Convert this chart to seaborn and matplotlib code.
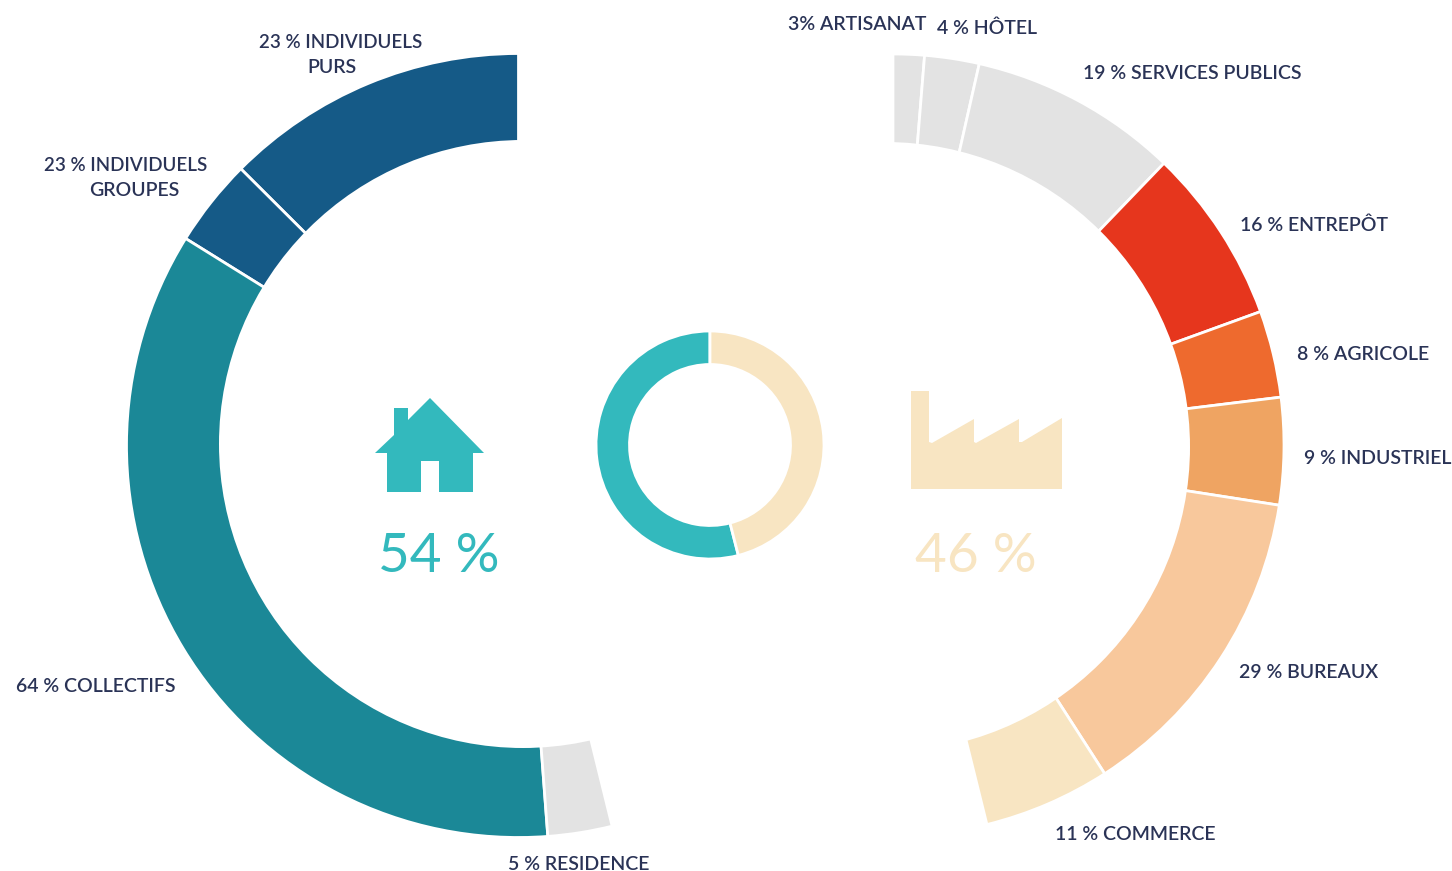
import matplotlib
matplotlib.use("Agg")
import matplotlib.pyplot as plt
from matplotlib.patches import Polygon, Circle
import seaborn as sns

sns.set_theme(style="white")
plt.rcParams['font.family'] = ['Lato', 'DejaVu Sans']

# Data
total_cats = ["Résidentiel", "Tertiaire"]
total_vals = [54, 46]
left_labels = ["23 % INDIVIDUELS\nPURS", "23 % INDIVIDUELS\nGROUPES", "64 % COLLECTIFS", "5 % RESIDENCE"]
left_shares = [23.2, 6.7, 64.9, 4.9]
right_labels = ["3% ARTISANAT", "4 % HÔTEL", "19 % SERVICES PUBLICS", "16 % ENTREPÔT",
                "8 % AGRICOLE", "9 % INDUSTRIEL", "29 % BUREAUX", "11 % COMMERCE"]
right_shares = [2.8, 4.9, 18.8, 15.8, 7.8, 9.6, 29.2, 11.4]

TEAL = "#33b9bd"
CREAM = "#f8e5c2"
INK = "#2a3356"
left_colors = ["#155a87", "#155a87", "#1b8897", "#e3e3e3"]
right_colors = ["#e3e3e3", "#e3e3e3", "#e3e3e3", "#e6361d", "#ee6a2e", "#efa462", "#f8c89c", CREAM]

W, H = 1452, 871
fig = plt.figure(figsize=(W / 100, H / 100), dpi=100, facecolor="white")
ax = fig.add_axes([0, 0, 1, 1])

def Y(py):
    return H - py

edge = dict(edgecolor="white", linewidth=2)

ax.pie([v / 100 * total_vals[0] / 100 for v in left_shares], colors=left_colors,
       center=(518.5, Y(445.5)), radius=392, startangle=90, counterclock=True, normalize=False,
       frame=True, wedgeprops=edge)
ax.pie([v / 100 * total_vals[1] / 100 for v in right_shares], colors=right_colors,
       center=(893, Y(445)), radius=391, startangle=90, counterclock=False, normalize=False,
       frame=True, wedgeprops=edge)
# the inner hole of each ring sits slightly off-centre in the reference
ax.add_patch(Circle((523, Y(444)), 304, fc="white", ec="none", zorder=3))
ax.add_patch(Circle((885, Y(447)), 305, fc="white", ec="none", zorder=3))
for w in ax.pie(total_vals, colors=[TEAL, CREAM], center=(710, Y(445)), radius=114, startangle=90,
                counterclock=True, frame=True, wedgeprops=dict(width=33.5, **edge))[0]:
    w.set_zorder(4)

ax.set_xlim(0, W)
ax.set_ylim(0, H)
ax.set_aspect("equal")
ax.axis("off")

house = [(430, 398), (484, 453), (473, 453), (473, 492), (439, 492), (439, 461), (421, 461), (421, 492),
         (387, 492), (387, 453), (375, 453), (394, 435), (394, 408), (408, 408), (408, 420)]
factory = [(911, 391), (929, 391), (929, 442), (932, 443), (974, 419), (974, 442), (976, 443), (1019, 419),
           (1019, 442), (1022, 442), (1062, 418), (1062, 489), (911, 489)]
ax.add_patch(Polygon([(x, Y(y)) for x, y in house], closed=True, fc=TEAL, ec="none", zorder=5))
ax.add_patch(Polygon([(x, Y(y)) for x, y in factory], closed=True, fc=CREAM, ec="none", zorder=5))

# one anchor per text line
lines = [l for t in left_labels + right_labels for l in t.split("\n")]
pos = [(341, 42), (332, 67), (126, 165), (134, 190), (96, 687), (579, 865),
       (857, 24), (987, 28), (1192, 73), (1314, 225), (1363, 354), (1378, 458), (1309, 672), (1135, 834)]
sizes = [13.5, 14, 13.5, 14] + [14] * 10
for t, (x, y), s in zip(lines, pos, sizes):
    ax.text(x, Y(y), t, ha="center", va="center", fontsize=s, color=INK, fontweight=600, zorder=6)

ax.text(439, Y(557), f"{total_vals[0]} %", ha="center", va="center", fontsize=39.5, color=TEAL, zorder=6)
ax.text(976, Y(557), f"{total_vals[1]} %", ha="center", va="center", fontsize=39.5, color=CREAM, zorder=6)

fig.savefig("out.png", dpi=100, facecolor="white")
